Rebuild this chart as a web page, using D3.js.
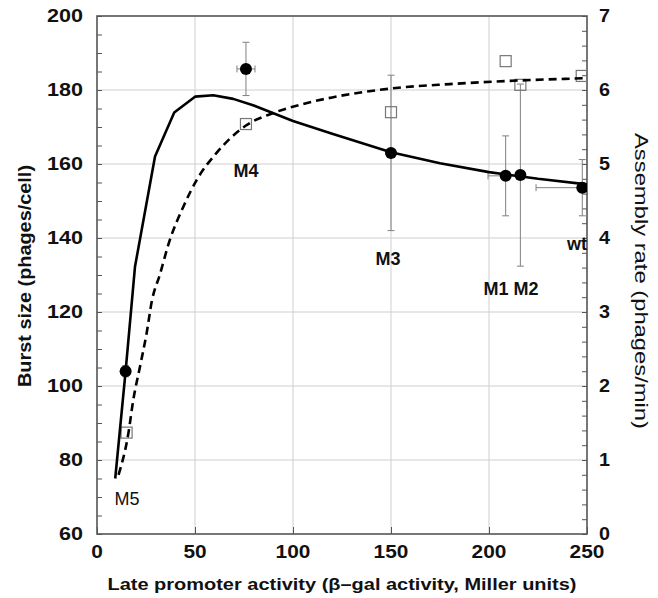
<!DOCTYPE html>
<html>
<head>
<meta charset="utf-8">
<script src="https://cdnjs.cloudflare.com/ajax/libs/d3/7.8.5/d3.min.js"></script>
<style>
  html, body { margin: 0; padding: 0; background: #fff; }
  svg { display: block; font-family: "Liberation Sans", Arial, sans-serif; }
</style>
</head>
<body>
<svg id="chart" width="658" height="598"></svg>
<script>
// ---------- data ----------
const mutants      = ["M5", "M4", "M3", "M1", "M2", "wt"];
const activity     = [14.6, 76, 150, 208.5, 216, 247.6];
const activityErr  = [0, 4.6, 0, 9, 0, 23.6];
const burstSize    = [104, 185.7, 163, 156.8, 157, 153.6];
const burstErr     = [1.5, 7.2, 21, 10.8, 24.6, 7.6];
const assemblyX    = [15.1, 76, 150, 208.5, 216, 247.3];
const assemblyRate = [1.37, 5.54, 5.7, 6.39, 6.07, 6.19];

// model curves
const burstModelX = [9.3, 14.6, 19.4, 29.6, 39.4, 50, 59.3, 69.5, 80, 90, 100, 120, 150, 175, 200, 225, 250];
const burstModelY = [75, 104, 132.3, 162, 173.9, 178.2, 178.6, 177.6, 175.8, 173.7, 171.6, 168.2, 163.2, 160.2, 157.8, 156, 154.5];
const assemblyModelX = [11, 16, 18.5, 22, 25.3, 28, 32, 37, 44, 51, 61, 76, 90, 105, 120, 150, 180, 208, 250];
const assemblyModelY = [0.8, 1.36, 1.81, 2.27, 2.71, 3.15, 3.5, 3.96, 4.42, 4.79, 5.15, 5.52, 5.69, 5.81, 5.9, 6.02, 6.08, 6.12, 6.16];

// annotation labels (data coordinates: x activity, y burst size)
const labelText = ["M5", "M4", "M3", "M1 M2", "wt"];
const labelX    = [15.3, 76, 148.5, 211.2, 250];
const labelY    = [67.8, 156.5, 132.7, 124.6, 136.8];
const labelBold = [false, true, true, true, true];

const xTicks = [0, 50, 100, 150, 200, 250];
const yLeftTicks = [60, 80, 100, 120, 140, 160, 180, 200];
const yRightTicks = [0, 1, 2, 3, 4, 5, 6, 7];

const xTitle = "Late promoter activity (\u03B2\u2013gal activity, Miller units)";
const yLeftTitle = "Burst size (phages/cell)";
const yRightTitle = "Assembly rate (phages/min)";

// ---------- layout ----------
const L = 97, R = 587, T = 16, B = 534;
const svg = d3.select("#chart");

const x = d3.scaleLinear().domain([0, 250]).range([L, R]);
const yL = d3.scaleLinear().domain([60, 200]).range([B, T]);
const yR = d3.scaleLinear().domain([0, 7]).range([B, T]);

svg.append("defs").append("clipPath").attr("id", "plotclip")
  .append("rect").attr("x", L).attr("y", T).attr("width", R - L).attr("height", B - T);

// grid
const grid = svg.append("g").attr("stroke", "#cfcfcf").attr("stroke-width", 1);
xTicks.filter(d => d > 0 && d < 250).forEach(d => {
  grid.append("line").attr("x1", x(d)).attr("x2", x(d)).attr("y1", T).attr("y2", B);
});
yLeftTicks.filter(d => d > 60 && d < 200).forEach(d => {
  grid.append("line").attr("x1", L).attr("x2", R).attr("y1", yL(d)).attr("y2", yL(d));
});

// axes with inward ticks
const axisColor = "#555";
const leftAxis = svg.append("g").attr("transform", `translate(${L},0)`)
  .call(d3.axisRight(yL).tickValues(d3.range(60, 200.1, 5)).tickSize(5).tickFormat(""));
const rightAxis = svg.append("g").attr("transform", `translate(${R},0)`)
  .call(d3.axisLeft(yR).tickValues(d3.range(0, 7.01, 0.2)).tickSize(5).tickFormat(""));
const bottomAxis = svg.append("g").attr("transform", `translate(0,${B})`)
  .call(d3.axisTop(x).tickValues(xTicks).tickSize(7).tickFormat(""));
[leftAxis, rightAxis, bottomAxis].forEach(a => {
  a.select(".domain").remove();
  a.selectAll("line").attr("stroke", axisColor).attr("stroke-width", 1);
});

// frame
svg.append("rect").attr("x", L).attr("y", T).attr("width", R - L).attr("height", B - T)
  .attr("fill", "none").attr("stroke", axisColor).attr("stroke-width", 1.6);

// tick labels
const tl = svg.append("g").attr("font-weight", "bold").attr("font-size", 18).attr("fill", "#111");
yLeftTicks.forEach(d => {
  const s = String(d);
  tl.append("text").attr("x", 83).attr("y", yL(d)).attr("dy", "0.36em")
    .attr("text-anchor", "end").attr("textLength", s.length * 12).attr("lengthAdjust", "spacingAndGlyphs").text(s);
});
yRightTicks.forEach(d => {
  const s = String(d);
  tl.append("text").attr("x", 599).attr("y", yR(d)).attr("dy", "0.36em")
    .attr("text-anchor", "start").attr("textLength", 11).attr("lengthAdjust", "spacingAndGlyphs").text(s);
});
xTicks.forEach(d => {
  const s = String(d);
  tl.append("text").attr("x", x(d)).attr("y", 558)
    .attr("text-anchor", "middle").attr("textLength", s.length * 11.6).attr("lengthAdjust", "spacingAndGlyphs").text(s);
});

// titles
svg.append("text").attr("x", (L + R) / 2).attr("y", 590).attr("text-anchor", "middle")
  .attr("font-weight", "bold").attr("font-size", 17).attr("fill", "#111")
  .attr("textLength", 469).attr("lengthAdjust", "spacingAndGlyphs").text(xTitle);
svg.append("text").attr("transform", `translate(31,276) rotate(-90)`).attr("text-anchor", "middle")
  .attr("font-weight", "bold").attr("font-size", 18).attr("fill", "#111")
  .attr("textLength", 222).attr("lengthAdjust", "spacingAndGlyphs").text(yLeftTitle);
svg.append("text").attr("transform", `translate(635,281) rotate(90)`).attr("text-anchor", "middle")
  .attr("font-size", 18).attr("fill", "#111")
  .attr("textLength", 296).attr("lengthAdjust", "spacingAndGlyphs").text(yRightTitle);

// ---------- marks ----------
const plot = svg.append("g").attr("clip-path", "url(#plotclip)");
const ebColor = "#808080", cap = 3.5;

// error bars (burst size)
const eb = plot.append("g").attr("stroke", ebColor).attr("stroke-width", 1).attr("fill", "none");
mutants.forEach((m, i) => {
  const cx = x(activity[i]);
  const y0 = yL(burstSize[i] - burstErr[i]), y1 = yL(burstSize[i] + burstErr[i]);
  eb.append("line").attr("x1", cx).attr("x2", cx).attr("y1", y0).attr("y2", y1);
  eb.append("line").attr("x1", cx - cap).attr("x2", cx + cap).attr("y1", y0).attr("y2", y0);
  eb.append("line").attr("x1", cx - cap).attr("x2", cx + cap).attr("y1", y1).attr("y2", y1);
  if (activityErr[i] > 0) {
    const cy = yL(burstSize[i]);
    const x0 = x(activity[i] - activityErr[i]), x1 = x(activity[i] + activityErr[i]);
    eb.append("line").attr("x1", x0).attr("x2", x1).attr("y1", cy).attr("y2", cy);
    eb.append("line").attr("x1", x0).attr("x2", x0).attr("y1", cy - cap).attr("y2", cy + cap);
    eb.append("line").attr("x1", x1).attr("x2", x1).attr("y1", cy - cap).attr("y2", cy + cap);
  }
});

// assembly squares
const sq = 11;
plot.append("g").selectAll("rect").data(assemblyRate).join("rect")
  .attr("x", (d, i) => x(assemblyX[i]) - sq / 2).attr("y", d => yR(d) - sq / 2)
  .attr("width", sq).attr("height", sq)
  .attr("fill", "none").attr("stroke", "#777").attr("stroke-width", 1.2);

// model lines
const burstLine = d3.line().x(d => x(d[0])).y(d => yL(d[1])).curve(d3.curveLinear);
plot.append("path").datum(burstModelX.map((v, i) => [v, burstModelY[i]]))
  .attr("d", burstLine).attr("fill", "none").attr("stroke", "#000").attr("stroke-width", 2.6)
  .attr("stroke-linejoin", "round");
const asmLine = d3.line().x(d => x(d[0])).y(d => yR(d[1])).curve(d3.curveMonotoneX);
plot.append("path").datum(assemblyModelX.map((v, i) => [v, assemblyModelY[i]]))
  .attr("d", asmLine).attr("fill", "none").attr("stroke", "#000").attr("stroke-width", 2.6)
  .attr("stroke-dasharray", "8,5");

// burst size circles
plot.append("g").selectAll("circle").data(burstSize).join("circle")
  .attr("cx", (d, i) => x(activity[i])).attr("cy", d => yL(d)).attr("r", 6).attr("fill", "#000");

// labels
const lab = svg.append("g").attr("font-size", 18).attr("fill", "#111");
labelText.forEach((t, i) => {
  lab.append("text").attr("x", x(labelX[i])).attr("y", yL(labelY[i]))
    .attr("text-anchor", t === "wt" ? "end" : "middle")
    .attr("font-weight", labelBold[i] ? "bold" : "normal").text(t);
});
</script>
</body>
</html>
